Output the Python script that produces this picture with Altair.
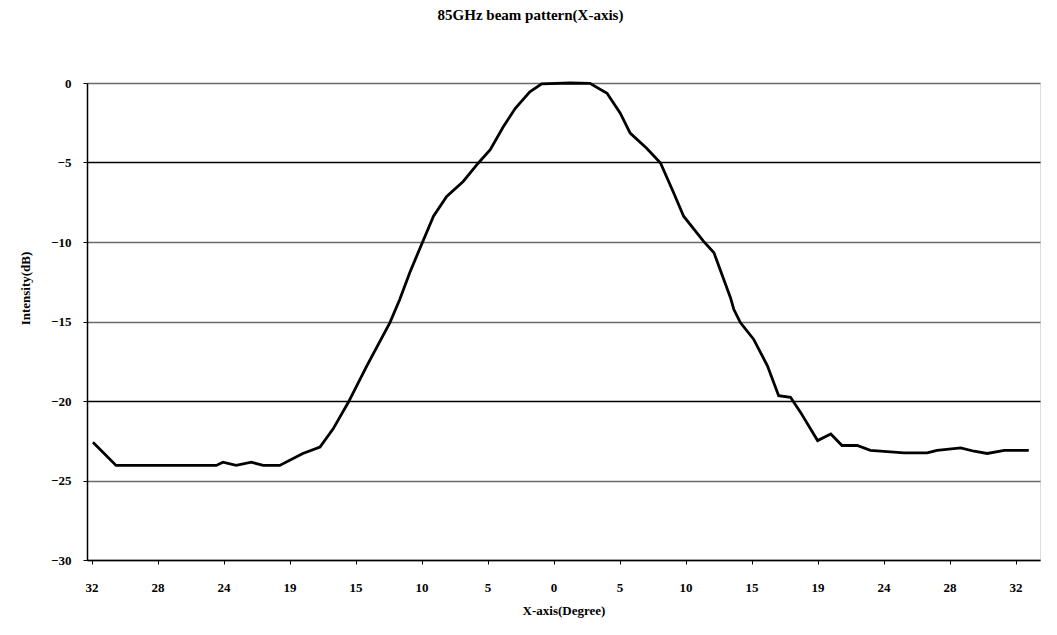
import altair as alt
import pandas as pd

# Tick labels of the x axis (equally spaced category labels, left to right)
x_tick_labels = ["32", "28", "24", "19", "15", "10", "5", "0", "5", "10", "15", "19", "24", "28", "32"]
x_tick_pos = list(range(-7, 8))

# Line data: position in tick-label units (0 = centre label "0") and intensity in dB
x_pos = [-6.98, -6.63, -5.11, -5.01, -4.81, -4.58, -4.40, -4.15, -3.80, -3.54, -3.34, -3.11,
         -2.83, -2.48, -2.33, -2.18, -1.98, -1.82, -1.62, -1.37, -1.14, -0.96, -0.76, -0.58,
         -0.36, -0.18, 0.25, 0.55, 0.81, 1.01, 1.16, 1.41, 1.62, 1.82, 1.97, 2.27, 2.43,
         2.68, 2.73, 2.83, 3.03, 3.24, 3.41, 3.59, 3.74, 4.00, 4.20, 4.37, 4.60, 4.80,
         5.31, 5.66, 5.81, 6.17, 6.37, 6.57, 6.83, 7.20]
intensity_db = [-22.6, -24.05, -24.05, -23.85, -24.05, -23.85, -24.05, -24.05, -23.3, -22.9,
                -21.75, -20.08, -17.79, -15.07, -13.6, -11.93, -9.95, -8.38, -7.13, -6.19,
                -5.03, -4.2, -2.74, -1.59, -0.55, -0.06, 0.0, -0.02, -0.65, -1.9, -3.15,
                -4.1, -5.03, -6.92, -8.38, -9.95, -10.68, -13.5, -14.23, -15.07, -16.11,
                -17.79, -19.67, -19.77, -20.7, -22.49, -22.07, -22.8, -22.8, -23.1, -23.26,
                -23.26, -23.1, -22.95, -23.16, -23.3, -23.1, -23.1]

y_ticks = [0, -5, -10, -15, -20, -25, -30]

df = pd.DataFrame({"x": x_pos, "y": intensity_db})

label_expr = "[" + ",".join("'" + s + "'" for s in x_tick_labels) + "][datum.value + 7]"

FONT = "Liberation Serif"

chart = alt.Chart(df).mark_line(color="black", strokeWidth=2.8).encode(
    x=alt.X("x:Q",
            scale=alt.Scale(domain=[-7.07, 7.37], nice=False, zero=False),
            axis=alt.Axis(values=x_tick_pos, labelExpr=label_expr, title="X-axis(Degree)",
                          grid=False, domain=True, domainColor="black", domainWidth=1.5,
                          tickColor="black", tickSize=4, labelPadding=17,
                          labelFont=FONT, labelFontSize=13, labelFontWeight="bold",
                          labelColor="black", titleFont=FONT, titleFontSize=13,
                          titleFontWeight="bold", titleColor="black", titlePadding=10)),
    y=alt.Y("y:Q",
            scale=alt.Scale(domain=[-30, 0], nice=False),
            axis=alt.Axis(values=y_ticks, title="Intensity(dB)", grid=True,
                          gridColor={"condition": {"test": "datum.value == -5 || datum.value == -20",
                                                   "value": "black"},
                                     "value": "#6a6a6a"},
                          gridWidth=1.6,
                          domain=True, domainColor="black", domainWidth=1.5,
                          tickColor="black", tickSize=4, labelPadding=12,
                          labelFont=FONT, labelFontSize=13, labelFontWeight="bold",
                          labelColor="black", titleFont=FONT, titleFontSize=13,
                          titleFontWeight="bold", titleColor="black", titlePadding=18,
                          titleY=205)),
).properties(
    width=953,
    height=477,
    title=alt.TitleParams("85GHz beam pattern(X-axis)", font=FONT, fontSize=15,
                          fontWeight="bold", color="black", anchor="middle",
                          offset=54, dx=-33),
    autosize=alt.AutoSizeParams(type="none"),
    padding={"left": 87, "top": 83, "right": 17, "bottom": 75},
).configure_view(stroke="black", strokeWidth=1.5).configure(background="white")

chart.save("out.html", embed_options={"renderer": "svg", "actions": False})
